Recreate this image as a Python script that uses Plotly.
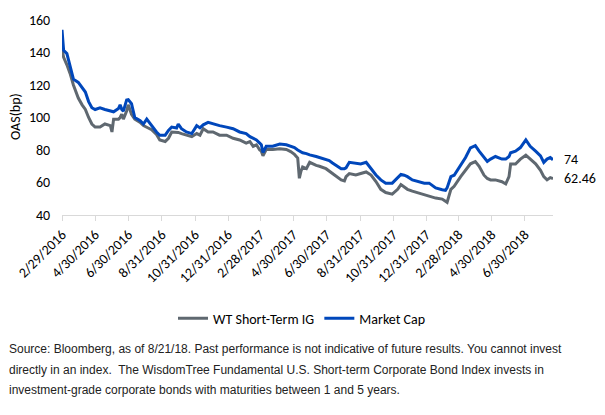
import plotly.graph_objects as go

dates = ["2016-02-29","2016-03-03","2016-03-09","2016-03-15","2016-03-21","2016-03-30","2016-04-06","2016-04-12","2016-04-18","2016-04-24",
         "2016-04-30","2016-05-09","2016-05-18","2016-05-28","2016-05-31","2016-06-03","2016-06-12","2016-06-15","2016-06-18","2016-06-21",
         "2016-06-27","2016-06-30","2016-07-06","2016-07-12","2016-07-22","2016-07-28","2016-08-03","2016-08-12","2016-08-21","2016-08-27",
         "2016-09-06","2016-09-12","2016-09-18","2016-09-27","2016-09-30","2016-10-06","2016-10-15","2016-10-25","2016-11-03","2016-11-09",
         "2016-11-15","2016-11-24","2016-12-03","2016-12-15","2016-12-28","2017-01-09","2017-01-21","2017-02-02","2017-02-09","2017-02-15",
         "2017-02-21","2017-02-27","2017-03-02","2017-03-05","2017-03-11","2017-03-23","2017-04-05","2017-04-17","2017-04-25","2017-05-02",
         "2017-05-08","2017-05-11","2017-05-14","2017-05-17","2017-05-24","2017-05-30","2017-06-11","2017-06-17","2017-06-29","2017-07-05",
         "2017-07-11","2017-07-21","2017-07-27","2017-08-02","2017-08-05","2017-08-11","2017-08-23","2017-09-01","2017-09-11","2017-09-20",
         "2017-09-29","2017-10-08","2017-10-17","2017-10-29","2017-11-08","2017-11-14","2017-11-20","2017-11-26","2017-12-05","2017-12-17",
         "2017-12-27","2018-01-05","2018-01-17","2018-01-29","2018-02-04","2018-02-07","2018-02-14","2018-02-20","2018-03-04","2018-03-13",
         "2018-03-22","2018-03-31","2018-04-07","2018-04-16","2018-04-22","2018-04-28","2018-05-07","2018-05-19","2018-05-26","2018-06-01",
         "2018-06-04","2018-06-13","2018-06-22","2018-07-02","2018-07-10","2018-07-20","2018-07-29","2018-08-04","2018-08-10","2018-08-16",
         "2018-08-21"]

wt_short_term_ig = [142,137,132.4,127,120,112,107.8,105,100,96,
                    94.1,94.1,96,95,91.1,99,99,100,102,99,
                    104,107.8,102,99,97,95,94,92.5,89.5,86.2,
                    85.2,87.2,91.1,91.1,90.8,90.1,89.1,88.2,90.1,89.1,
                    93.1,91.1,91.1,89.1,89.1,87.2,86.2,84.2,85.2,82.3,
                    83.2,80,79.3,76.4,80.3,80.3,80.8,80.3,79,77.3,
                    75,62.6,67,69.5,68.5,72.4,70.5,70,68.5,67,
                    65.5,63,61.6,61,63.6,65.5,64.6,65.5,66.5,64.6,
                    60.6,55.8,53.8,52.8,55.8,58.7,57.5,55.8,54.7,53.5,
                    52.8,51.8,50.4,49.8,48.5,47.8,55.8,57.7,63.6,67.6,
                    71.5,72.9,70,64.5,62.5,61.6,61.6,60.5,59.1,63.6,
                    71.4,71.4,74.4,76.8,74.5,71.5,67.5,63.6,61.6,63,62.46]

market_cap = [154,141.3,139.3,132,123.6,121.6,118,115.7,109.8,106,
              104.9,105.9,104.9,103.9,103.5,103.5,105.5,107.8,105,103.9,
              110.8,111,108.5,100,98,96,99,95,91.1,89.1,
              89.1,92,94.1,93.5,96,93.1,91.1,90.1,95,93.6,
              95.5,97,96,95,94.1,93.1,91.1,90.1,88.2,87.2,
              86.2,84.2,83.2,78.5,82.3,82.3,83.7,83.2,82.3,81.5,
              80,79.3,78.8,78.3,77.8,77,76,75.4,74.5,73.5,
              72,69.5,68.5,68.5,69,72.4,72,71.4,72.4,68.5,
              64.6,61.6,59.6,59.6,62.6,65,64.5,63.6,61.6,60.6,
              59.6,59.6,56.7,55.5,55.2,56.7,63.6,64.5,70.5,75.4,
              81.3,82.7,79.3,75.4,72.9,74.4,76,74.4,74.4,76,
              78.3,79.3,81.5,86.2,82.3,79.3,76.4,72.4,74.4,75.4,74]

tick_dates = ["2016-02-29","2016-04-30","2016-06-30","2016-08-31","2016-10-31","2016-12-31",
              "2017-02-28","2017-04-30","2017-06-30","2017-08-31","2017-10-31","2017-12-31",
              "2018-02-28","2018-04-30","2018-06-30"]
tick_labels = ["2/29/2016","4/30/2016","6/30/2016","8/31/2016","10/31/2016","12/31/2016",
               "2/28/2017","4/30/2017","6/30/2017","8/31/2017","10/31/2017","12/31/2017",
               "2/28/2018","4/30/2018","6/30/2018"]

end_labels = ["62.46", "74"]
source_lines = [
    "Source: Bloomberg, as of 8/21/18. Past performance is not indicative of future results. You cannot invest",
    "directly in an index.  The WisdomTree Fundamental U.S. Short-term Corporate Bond Index invests in",
    "investment-grade corporate bonds with maturities between 1 and 5 years.",
]

GREY = "#5f6870"
BLUE = "#0047bb"
FONT = "Carlito, Lato, sans-serif"

W, H = 605, 415
L, R, T, B = 62, 52, 12, 200
pw, ph = W - L - R, H - T - B

def px_x(x):
    return (x - L) / pw

def px_y(y):
    return (H - B - y) / ph

fig = go.Figure()
fig.add_trace(go.Scatter(x=dates, y=wt_short_term_ig, mode="lines", name="WT Short-Term IG",
                         line=dict(color=GREY, width=3)))
fig.add_trace(go.Scatter(x=dates, y=market_cap, mode="lines", name="Market Cap",
                         line=dict(color=BLUE, width=3)))

annotations = [
    dict(x=dates[-1], y=wt_short_term_ig[-1], text=end_labels[0], showarrow=False,
         xanchor="left", yanchor="middle", xshift=9, font=dict(size=14, color="#000", family=FONT)),
    dict(x=dates[-1], y=market_cap[-1], text=end_labels[1], showarrow=False,
         xanchor="left", yanchor="middle", xshift=9, font=dict(size=14, color="#000", family=FONT)),
    dict(x=px_x(15), y=px_y(113), xref="paper", yref="paper", text="OAS(bp)", textangle=-90,
         showarrow=False, xanchor="center", yanchor="middle", font=dict(size=14, color="#000", family=FONT)),
]
for i, line in enumerate(source_lines):
    annotations.append(dict(x=px_x(7), y=px_y(355 + 21 * i), xref="paper", yref="paper", text=line,
                            showarrow=False, xanchor="left", yanchor="middle",
                            font=dict(size=12, color="#222", family="Liberation Sans, Arial, sans-serif")))

fig.update_layout(
    width=W, height=H,
    margin=dict(l=L, r=R, t=T, b=B),
    paper_bgcolor="white", plot_bgcolor="white",
    font=dict(family=FONT, size=14, color="#000"),
    showlegend=True,
    legend=dict(orientation="h", x=px_x(302), y=px_y(323), xanchor="center", yanchor="middle",
                font=dict(size=14, color="#000", family=FONT), bgcolor="rgba(0,0,0,0)"),
    annotations=annotations,
)
fig.update_xaxes(
    type="date", range=["2016-02-29", "2018-08-21"],
    tickvals=tick_dates, ticktext=tick_labels, tickangle=-45,
    showgrid=False, showline=True, linecolor="#d9d9d9", linewidth=1,
    ticks="outside", ticklen=5, tickcolor="#d9d9d9",
    tickfont=dict(size=14, color="#000", family=FONT),
)
fig.update_yaxes(
    range=[40, 160], tickvals=[40, 60, 80, 100, 120, 140, 160],
    showgrid=False, showline=False, zeroline=False,
    ticks="outside", ticklen=8, tickcolor="rgba(0,0,0,0)",
    tickfont=dict(size=14, color="#000", family=FONT),
)

fig.write_html("out.html")
